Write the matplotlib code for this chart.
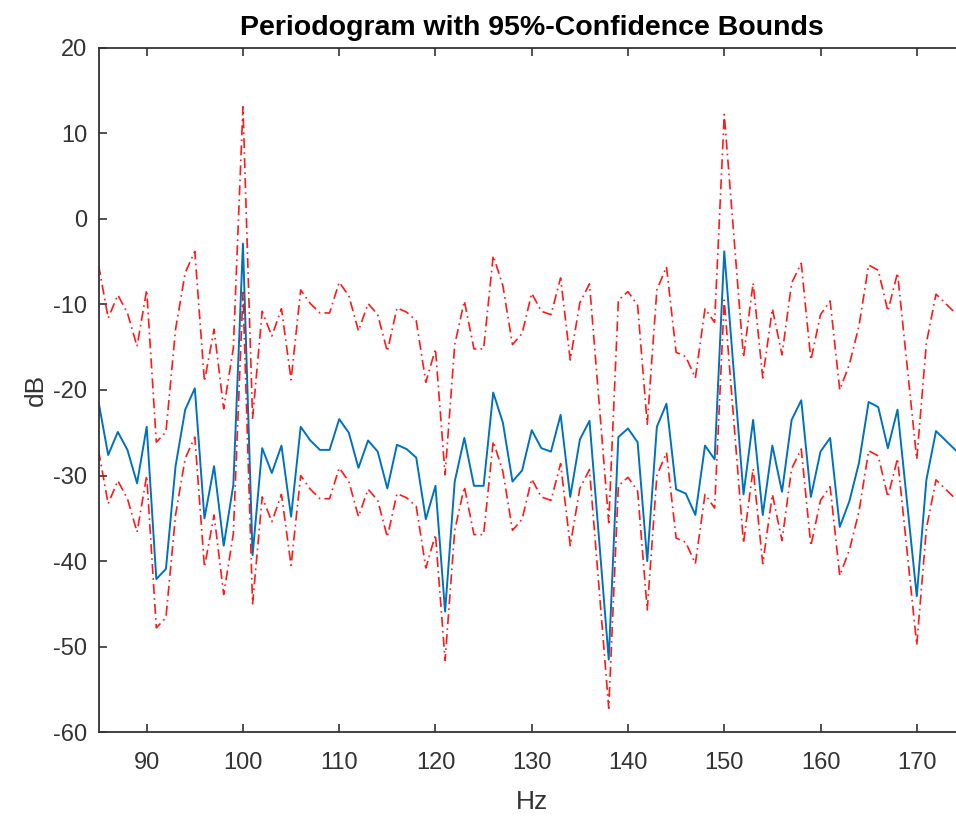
import numpy as np
import matplotlib
matplotlib.use('Agg')
import matplotlib.pyplot as plt

# Frequency bins (Hz), 1 Hz spacing
freq = np.arange(85, 176)

# Periodogram estimate (dB)
psd_db = [-21.4, -27.6, -24.9, -27.0, -30.9, -24.3, -42.1, -40.9, -28.9, -22.3,
          -19.8, -35.0, -28.9, -38.2, -31.1, -2.9, -39.3, -26.8, -29.7, -26.5,
          -34.8, -24.3, -25.9, -27.0, -27.0, -23.4, -25.0, -29.1, -25.9, -27.2,
          -31.5, -26.4, -26.9, -27.9, -35.1, -31.2, -45.9, -30.7, -25.6, -31.2,
          -31.2, -20.3, -23.8, -30.7, -29.4, -24.7, -26.8, -27.2, -22.9, -32.5,
          -25.8, -23.6, -37.5, -51.5, -25.5, -24.5, -26.1, -40.0, -24.3, -21.6,
          -31.6, -32.1, -34.6, -26.5, -28.1, -3.8, -18.0, -32.2, -23.5, -34.6,
          -26.5, -31.9, -23.5, -21.2, -32.5, -27.2, -25.6, -36.0, -33.0, -28.5,
          -21.4, -22.0, -26.8, -22.3, -33.2, -44.1, -30.5, -24.8, -25.9, -27.0,
          -27.8]

# Upper 95% confidence bound (dB)
upper_db = [-5.4, -11.6, -8.9, -11.0, -14.9, -8.3, -26.1, -24.9, -12.9, -6.3,
            -3.8, -19.0, -12.9, -22.2, -15.1, 13.1, -23.3, -10.8, -13.7, -10.5,
            -18.8, -8.3, -9.9, -11.0, -11.0, -7.4, -9.0, -13.1, -9.9, -11.2,
            -15.5, -10.4, -10.9, -11.9, -19.1, -15.2, -29.9, -14.7, -9.6, -15.2,
            -15.2, -4.3, -7.8, -14.7, -13.4, -8.7, -10.8, -11.2, -6.9, -16.5,
            -9.8, -7.6, -21.5, -35.5, -9.5, -8.5, -10.1, -24.0, -8.3, -5.6,
            -15.6, -16.1, -18.6, -10.5, -12.1, 12.2, -2.0, -16.2, -7.5, -18.6,
            -10.5, -15.9, -7.5, -5.2, -16.5, -11.2, -9.6, -20.0, -17.0, -12.5,
            -5.4, -6.0, -10.8, -6.3, -17.2, -28.1, -14.5, -8.8, -9.9, -11.0,
            -11.8]

# Lower 95% confidence bound (dB)
lower_db = [-27.1, -33.3, -30.6, -32.7, -36.6, -30.0, -47.8, -46.6, -34.6, -28.0,
            -25.5, -40.7, -34.6, -43.9, -36.8, -8.6, -45.0, -32.5, -35.4, -32.2,
            -40.5, -30.0, -31.6, -32.7, -32.7, -29.1, -30.7, -34.8, -31.6, -32.9,
            -37.2, -32.1, -32.6, -33.6, -40.8, -36.9, -51.6, -36.4, -31.3, -36.9,
            -36.9, -26.0, -29.5, -36.4, -35.1, -30.4, -32.5, -32.9, -28.6, -38.2,
            -31.5, -29.3, -43.2, -57.2, -31.2, -30.2, -31.8, -45.7, -30.0, -27.3,
            -37.3, -37.8, -40.3, -32.2, -33.8, -9.5, -23.7, -37.9, -29.2, -40.3,
            -32.2, -37.6, -29.2, -26.9, -38.2, -32.9, -31.3, -41.7, -38.7, -34.2,
            -27.1, -27.7, -32.5, -28.0, -38.9, -49.8, -36.2, -30.5, -31.6, -32.7,
            -33.5]

plt.rcParams['font.family'] = ['Liberation Sans', 'DejaVu Sans']
plt.rcParams['axes.unicode_minus'] = False
axis_grey = '#333333'

fig = plt.figure(figsize=(9.56, 8.17), dpi=100)
# axes runs a little past the right edge, as in the cropped original
ax = fig.add_axes([0.1031, 0.1037, 0.9062, 0.8379])

ax.plot(freq, psd_db, color=(0, 0.447, 0.741), lw=1.4)
ax.plot(freq, upper_db, color='red', lw=1.2, alpha=0.9,
        linestyle=(0, (6, 2.5, 1, 2.5)))
ax.plot(freq, lower_db, color='red', lw=1.2, alpha=0.9,
        linestyle=(0, (6, 2.5, 1, 2.5)))

ax.set_xlim(85, 175)
ax.set_ylim(-60, 20)
ax.set_xticks(np.arange(90, 171, 10))
ax.set_yticks(np.arange(-60, 21, 10))

ax.tick_params(direction='in', length=6, width=1.2, colors=axis_grey,
               labelsize=17, top=True, right=True)
ax.tick_params(axis='x', pad=14)
ax.tick_params(axis='y', pad=8)
for sp in ax.spines.values():
    sp.set_color(axis_grey)
    sp.set_linewidth(1.3)

ax.set_xlabel('Hz', fontsize=19, color=axis_grey, labelpad=12)
ax.set_ylabel('dB', fontsize=19, color=axis_grey, labelpad=4)
ax.set_title('Periodogram with 95%-Confidence Bounds', fontsize=20.5,
             fontweight='bold', color='black', pad=9)

fig.savefig('out.png', dpi=100)
